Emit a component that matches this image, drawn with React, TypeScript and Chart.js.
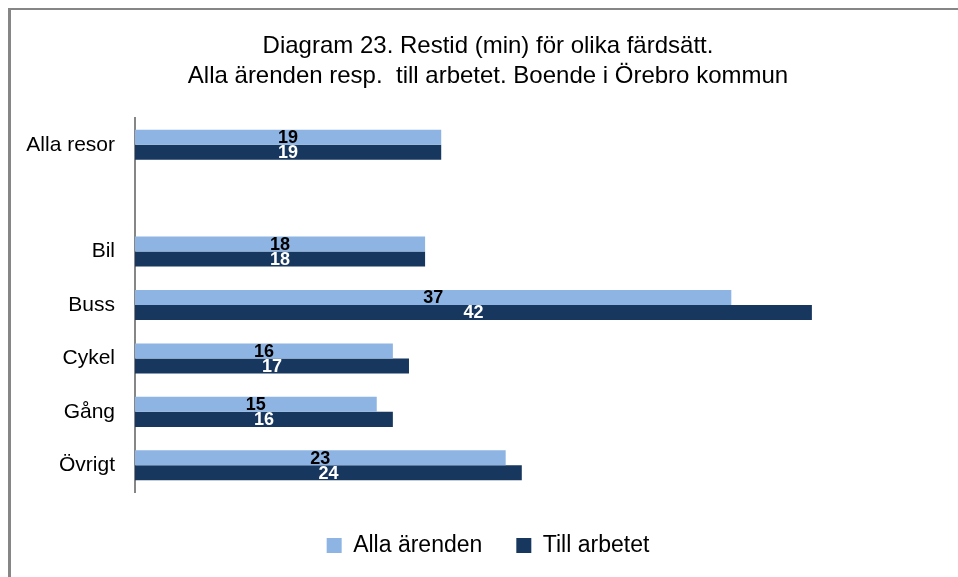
import React, { useEffect, useRef } from "react";
import { Chart, registerables } from "chart.js";

Chart.register(...registerables);

const titleLines = [
  "Diagram 23. Restid (min) för olika färdsätt.",
  "Alla ärenden resp.  till arbetet. Boende i Örebro kommun",
];
const categories = ["Alla resor", "", "Bil", "Buss", "Cykel", "Gång", "Övrigt"];
const seriesNames = ["Alla ärenden", "Till arbetet"];
const allaArenden = [19, null, 18, 37, 16, 15, 23];
const tillArbetet = [19, null, 18, 42, 17, 16, 24];
const barColors = ["#8DB4E2", "#17375E"];
const labelColors = ["#000000", "#FFFFFF"];

const FONT = '"Liberation Sans", Arial, sans-serif';

const valueLabels = {
  id: "valueLabels",
  afterDatasetsDraw(chart: any) {
    const ctx = chart.ctx;
    ctx.save();
    ctx.font = `bold 18px ${FONT}`;
    ctx.textAlign = "center";
    ctx.textBaseline = "middle";
    chart.data.datasets.forEach((ds: any, di: number) => {
      const meta = chart.getDatasetMeta(di);
      meta.data.forEach((el: any, i: number) => {
        const v = ds.data[i];
        if (v == null) return;
        const p = el.getCenterPoint();
        ctx.fillStyle = labelColors[di];
        ctx.fillText(String(v), p.x, p.y + 1);
      });
    });
    ctx.restore();
  },
};

export default function App() {
  const ref = useRef<HTMLCanvasElement | null>(null);

  useEffect(() => {
    if (!ref.current) return;
    const chart = new Chart(ref.current, {
      type: "bar",
      data: {
        labels: categories,
        datasets: [
          {
            label: seriesNames[0],
            data: allaArenden,
            backgroundColor: barColors[0],
            borderWidth: 0,
            categoryPercentage: 0.5625,
            barPercentage: 1,
          },
          {
            label: seriesNames[1],
            data: tillArbetet,
            backgroundColor: barColors[1],
            borderWidth: 0,
            categoryPercentage: 0.5625,
            barPercentage: 1,
          },
        ],
      },
      options: {
        indexAxis: "y",
        responsive: false,
        animation: false,
        layout: { padding: { left: 0, right: 0, top: 0, bottom: 10 } },
        scales: {
          x: {
            min: 0,
            max: 51.5,
            display: true,
            ticks: { display: false },
            grid: { display: false, drawTicks: false },
            border: { display: false },
            afterFit: (s: any) => {
              s.height = 8;
            },
          },
          y: {
            grid: { display: true, color: "rgba(0,0,0,0)", drawTicks: false },
            border: { display: true, color: "#868686", width: 2 },
            ticks: {
              color: "#000000",
              font: { family: FONT, size: 21 },
              padding: 20,
            },
            afterFit: (s: any) => {
              s.width = 124;
            },
          },
        },
        plugins: {
          title: {
            display: true,
            text: titleLines,
            color: "#000000",
            font: { family: FONT, size: 24, weight: "normal", lineHeight: 1.25 },
            padding: { top: 21, bottom: 27 },
          },
          legend: {
            display: true,
            position: "bottom",
            labels: {
              boxWidth: 15,
              boxHeight: 15,
              padding: 34,
              color: "#000000",
              font: { family: FONT, size: 23 },
            },
          },
          tooltip: { enabled: false },
        },
      },
      plugins: [valueLabels],
    } as any);
    return () => chart.destroy();
  }, []);

  return (
    <div
      style={{
        position: "absolute",
        left: 8,
        top: 8,
        width: 947,
        height: 567,
        borderTop: "2px solid #868686",
        borderLeft: "3px solid #868686",
        overflow: "hidden",
        background: "#FFFFFF",
      }}
    >
      <canvas ref={ref} width={954} height={567} style={{ display: "block" }} />
    </div>
  );
}
